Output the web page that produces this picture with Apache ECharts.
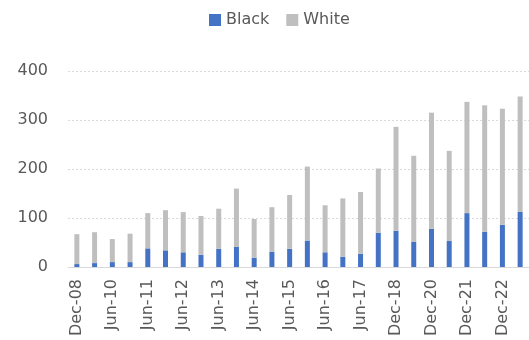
<!DOCTYPE html>
<html>
<head>
<meta charset="utf-8">
<script src="https://cdn.jsdelivr.net/npm/echarts@6/dist/echarts.min.js"></script>
<style>
	html, body { margin: 0; padding: 0; background: #fff; }
	#chart { width: 529px; height: 340px; }
</style>
</head>
<body>
<div id="chart"></div>
<script>
	// periods (labels shown every other bar)
	var categories = ['Dec-08', 'Dec-09', 'Jun-10', 'Dec-10', 'Jun-11', 'Dec-11', 'Jun-12', 'Dec-12',
		'Jun-13', 'Dec-13', 'Jun-14', 'Dec-14', 'Jun-15', 'Dec-15', 'Jun-16', 'Dec-16', 'Jun-17',
		'Dec-17', 'Dec-18', 'Dec-19', 'Dec-20', 'Jun-21', 'Dec-21', 'Jun-22', 'Dec-22', 'Jun-23'];
	var black = [6, 8, 10, 10, 38, 34, 30, 25, 37, 41, 19, 31, 37, 54, 30, 21, 27, 70, 74, 51, 78, 53, 110, 72, 86, 113];
	var white = [61, 63, 47, 58, 72, 82, 82, 79, 82, 119, 79, 91, 110, 151, 96, 119, 126, 131, 212, 176, 237, 184, 227, 258, 237, 235];
	var yTicks = [0, 100, 200, 300, 400];

	var myChart = echarts.init(document.getElementById('chart'));
	var font = 'DejaVu Sans';
	myChart.setOption({
		animation: false,
		legend: {
			left: 209,
			top: 12,
			padding: 0,
			itemWidth: 12,
			itemHeight: 12,
			itemGap: 17,
			icon: 'rect',
			textStyle: { fontFamily: font, fontSize: 16, color: '#595959' },
			data: ['Black', 'White']
		},
		grid: {
			left: 68,
			top: 71,
			width: 468,
			height: 196
		},
		xAxis: {
			type: 'category',
			data: categories,
			axisTick: { show: false },
			axisLine: { lineStyle: { color: '#d9d9d9', width: 1 } },
			axisLabel: {
				interval: 1,
				rotate: 90,
				margin: 12,
				fontFamily: font,
				fontSize: 16,
				color: '#595959'
			}
		},
		yAxis: {
			type: 'value',
			min: yTicks[0],
			max: yTicks[yTicks.length - 1],
			interval: 100,
			axisLine: { show: false },
			axisTick: { show: false },
			axisLabel: { margin: 20, fontFamily: font, fontSize: 16, color: '#595959' },
			splitLine: { lineStyle: { color: '#d9d9d9', type: [2, 2], width: 1 } }
		},
		series: [{
			name: 'Black',
			type: 'bar',
			stack: 'total',
			barWidth: 5,
			data: black,
			itemStyle: { color: '#4472C4' }
		}, {
			name: 'White',
			type: 'bar',
			stack: 'total',
			barWidth: 5,
			data: white,
			itemStyle: { color: '#BFBFBF' }
		}]
	});
</script>
</body>
</html>
